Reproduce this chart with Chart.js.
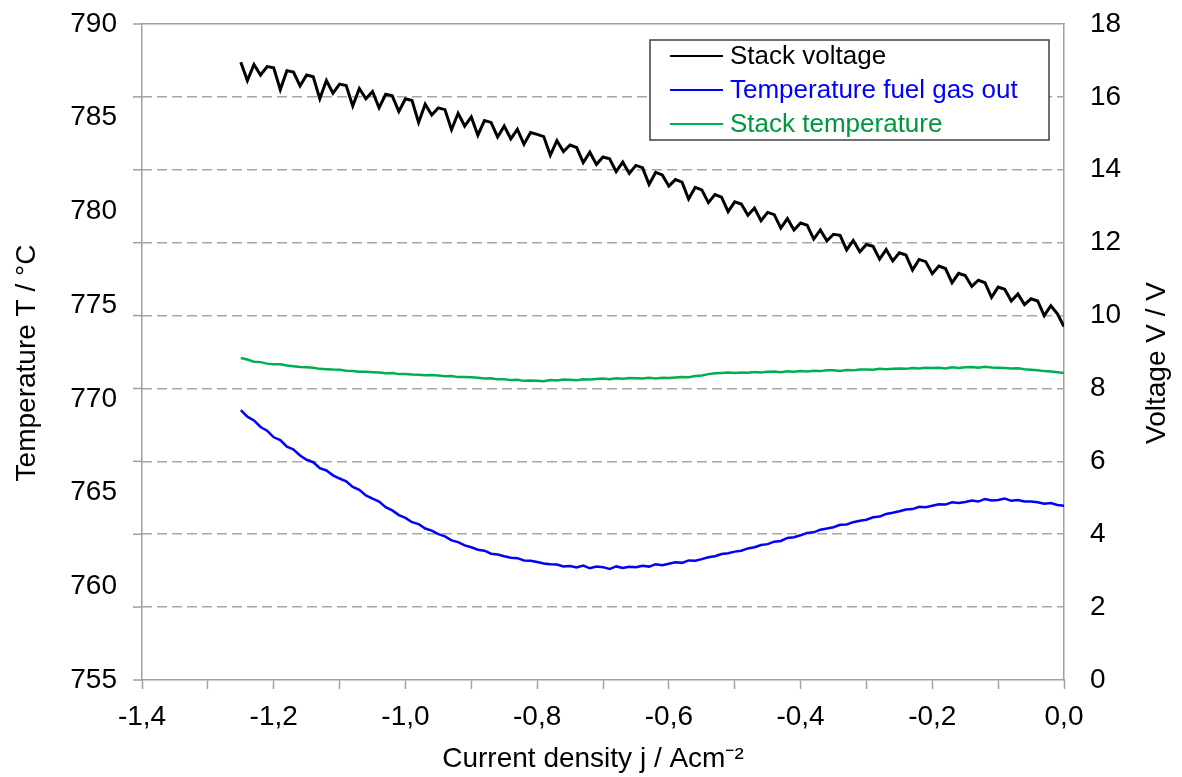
<!DOCTYPE html>
<html>
<head>
<meta charset="utf-8">
<title>Stack voltage and temperatures vs current density</title>
<script src="https://cdn.jsdelivr.net/npm/chart.js@4.4.0/dist/chart.umd.min.js"></script>
<style>
  body { margin: 0; background: #fff; }
  #wrap { width: 1182px; height: 777px; }
</style>
</head>
<body>
<div id="wrap"><canvas id="chart" width="1182" height="777"></canvas></div>
<script>
// current density j / Acm-2 (shared x values of all three series)
const currentDensity = [
  -1.25,-1.24,-1.23,-1.22,-1.21,-1.20,-1.19,-1.18,-1.17,-1.16,
  -1.15,-1.14,-1.13,-1.12,-1.11,-1.10,-1.09,-1.08,-1.07,-1.06,
  -1.05,-1.04,-1.03,-1.02,-1.01,-1.00,-0.99,-0.98,-0.97,-0.96,
  -0.95,-0.94,-0.93,-0.92,-0.91,-0.90,-0.89,-0.88,-0.87,-0.86,
  -0.85,-0.84,-0.83,-0.82,-0.81,-0.80,-0.79,-0.78,-0.77,-0.76,
  -0.75,-0.74,-0.73,-0.72,-0.71,-0.70,-0.69,-0.68,-0.67,-0.66,
  -0.65,-0.64,-0.63,-0.62,-0.61,-0.60,-0.59,-0.58,-0.57,-0.56,
  -0.55,-0.54,-0.53,-0.52,-0.51,-0.50,-0.49,-0.48,-0.47,-0.46,
  -0.45,-0.44,-0.43,-0.42,-0.41,-0.40,-0.39,-0.38,-0.37,-0.36,
  -0.35,-0.34,-0.33,-0.32,-0.31,-0.30,-0.29,-0.28,-0.27,-0.26,
  -0.25,-0.24,-0.23,-0.22,-0.21,-0.20,-0.19,-0.18,-0.17,-0.16,
  -0.15,-0.14,-0.13,-0.12,-0.11,-0.10,-0.09,-0.08,-0.07,-0.06,
  -0.05,-0.04,-0.03,-0.02,-0.01,0.00
];

// stack voltage / V (right axis) - upper envelope with the downward spikes
const stackVoltage = [
  16.95,16.45,16.89,16.60,16.83,16.80,16.20,16.72,16.68,16.30,
  16.60,16.55,15.95,16.45,16.10,16.35,16.31,15.75,16.23,15.95,
  16.15,15.70,16.07,16.03,15.60,15.95,15.90,15.30,15.80,15.50,
  15.70,15.65,15.10,15.55,15.20,15.45,14.95,15.35,15.30,14.90,
  15.20,14.85,15.11,14.70,15.02,14.97,14.91,14.40,14.80,14.50,
  14.68,14.61,14.20,14.48,14.15,14.35,14.30,13.95,14.21,13.90,
  14.12,14.06,13.60,13.93,13.86,13.55,13.73,13.66,13.20,13.52,
  13.45,13.10,13.32,13.25,12.85,13.12,13.06,12.75,12.95,12.60,
  12.83,12.77,12.40,12.66,12.35,12.54,12.48,12.10,12.35,12.05,
  12.23,12.20,11.80,12.06,11.75,11.95,11.90,11.55,11.81,11.50,
  11.72,11.66,11.25,11.54,11.48,11.15,11.36,11.29,10.90,11.16,
  11.10,10.80,10.97,10.90,10.50,10.78,10.72,10.40,10.59,10.30,
  10.46,10.40,10.00,10.27,10.05,9.70
];

// temperature fuel gas out / °C (left axis)
const fuelGasOutTemp = [
  769.40,769.05,768.85,768.50,768.30,767.95,767.80,767.45,767.30,766.98,
  766.75,766.62,766.30,766.18,765.92,765.75,765.60,765.30,765.15,764.85,
  764.68,764.52,764.22,764.05,763.80,763.65,763.42,763.32,763.08,762.97,
  762.78,762.66,762.45,762.36,762.18,762.08,761.95,761.90,761.74,761.70,
  761.60,761.52,761.50,761.38,761.36,761.30,761.22,761.18,761.16,761.06,
  761.08,761.00,761.10,760.96,761.05,761.02,760.92,761.06,760.98,761.04,
  761.02,761.10,761.05,761.18,761.12,761.20,761.28,761.25,761.38,761.36,
  761.45,761.55,761.60,761.72,761.76,761.85,761.90,762.02,762.08,762.20,
  762.25,762.38,762.42,762.58,762.62,762.72,762.85,762.88,763.02,763.08,
  763.15,763.28,763.30,763.42,763.50,763.55,763.68,763.72,763.86,763.92,
  764.00,764.10,764.12,764.24,764.22,764.30,764.38,764.36,764.48,764.44,
  764.50,764.58,764.52,764.66,764.58,764.60,764.68,764.56,764.60,764.52,
  764.52,764.48,764.40,764.44,764.34,764.30
];

// stack temperature / °C (left axis)
const stackTemp = [
  772.18,772.10,771.98,771.96,771.88,771.85,771.84,771.78,771.74,771.70,
  771.68,771.66,771.60,771.58,771.56,771.55,771.50,771.48,771.45,771.44,
  771.42,771.40,771.36,771.38,771.32,771.33,771.30,771.29,771.26,771.27,
  771.24,771.20,771.22,771.16,771.17,771.15,771.12,771.09,771.10,771.04,
  771.05,771.00,771.02,770.96,770.98,770.97,770.94,771.00,770.98,771.03,
  771.02,770.99,771.05,771.03,771.06,771.08,771.05,771.10,771.07,771.11,
  771.10,771.08,771.12,771.09,771.13,771.11,771.14,771.16,771.15,771.22,
  771.25,771.32,771.36,771.38,771.40,771.38,771.41,771.39,771.43,771.41,
  771.44,771.46,771.42,771.47,771.45,771.48,771.46,771.50,771.48,771.52,
  771.52,771.49,771.54,771.52,771.56,771.57,771.55,771.60,771.58,771.61,
  771.62,771.60,771.65,771.62,771.66,771.64,771.66,771.62,771.68,771.65,
  771.68,771.70,771.66,771.71,771.67,771.66,771.64,771.62,771.63,771.58,
  771.55,771.52,771.48,771.46,771.42,771.38
];

const seriesNames = ["Stack voltage", "Temperature fuel gas out", "Stack temperature"];
const lineColors = ["#000000", "#0000ff", "#00b050"];
const textColors = ["#000000", "#0000ff", "#00963c"];

const xTitle = "Current density j / Acm⁻²";
const yTitle = "Temperature T / °C";
const y1Title = "Voltage V / V";

const FONT = "'Liberation Sans', Arial, sans-serif";
const AXIS_GRAY = "#a0a0a0";

function toPoints(values) {
  return currentDensity.map((j, i) => ({ x: j, y: values[i] }));
}

// axes sizes are fixed so the plot area sits where it does in the picture
function fixWidth(w) {
  return (s) => { s.width = w; s.paddingTop = 0; s.paddingBottom = 0; };
}
function fixHeight(h) {
  return (s) => { s.height = h; s.paddingLeft = 0; s.paddingRight = 0; };
}

// axis titles (both vertical ones read bottom to top) and short stubs
// of the dashed grid lines left of the plot area
const axisTitles = {
  id: "axisTitles",
  afterDraw(chart) {
    const { ctx, chartArea } = chart;
    const yc = (chartArea.top + chartArea.bottom) / 2 + 11;
    ctx.save();
    ctx.strokeStyle = AXIS_GRAY;
    ctx.lineWidth = 1.5;
    chart.scales.y1.ticks.forEach((t) => {
      const y = chart.scales.y1.getPixelForValue(t.value);
      ctx.beginPath();
      ctx.moveTo(chartArea.left - 9, y);
      ctx.lineTo(chartArea.left, y);
      ctx.stroke();
    });
    ctx.fillStyle = "#000";
    ctx.font = "28px " + FONT;
    ctx.textAlign = "center";
    ctx.textBaseline = "middle";
    ctx.fillText(xTitle, chartArea.left + 451, chart.height - 18);
    [[27, yTitle], [chart.width - 25, y1Title]].forEach(([x, text]) => {
      ctx.save();
      ctx.translate(x, yc);
      ctx.rotate(-Math.PI / 2);
      ctx.fillText(text, 0, 0);
      ctx.restore();
    });
    ctx.restore();
  }
};

// legend box drawn inside the plot area, top right
const boxLegend = {
  id: "boxLegend",
  afterDraw(chart) {
    const { ctx, chartArea } = chart;
    const w = 399, h = 100;
    const x0 = chartArea.right - 15 - w;
    const y0 = chartArea.top + 16;
    ctx.save();
    ctx.fillStyle = "#fff";
    ctx.fillRect(x0, y0, w, h);
    ctx.strokeStyle = "#404040";
    ctx.lineWidth = 1.5;
    ctx.strokeRect(x0, y0, w, h);
    ctx.font = "26px " + FONT;
    ctx.textBaseline = "middle";
    chart.data.datasets.forEach((ds, i) => {
      const y = y0 + 16 + i * 34;
      ctx.strokeStyle = ds.borderColor;
      ctx.lineWidth = 2;
      ctx.beginPath();
      ctx.moveTo(x0 + 20, y);
      ctx.lineTo(x0 + 73, y);
      ctx.stroke();
      ctx.fillStyle = textColors[i];
      ctx.fillText(ds.label, x0 + 80, y + 1);
    });
    ctx.restore();
  }
};

new Chart(document.getElementById("chart"), {
  type: "line",
  data: {
    datasets: [
      {
        label: seriesNames[0],
        data: toPoints(stackVoltage),
        yAxisID: "y1",
        borderColor: lineColors[0],
        borderWidth: 3,
        pointRadius: 0,
      },
      {
        label: seriesNames[1],
        data: toPoints(fuelGasOutTemp),
        yAxisID: "y",
        borderColor: lineColors[1],
        borderWidth: 2.5,
        pointRadius: 0,
      },
      {
        label: seriesNames[2],
        data: toPoints(stackTemp),
        yAxisID: "y",
        borderColor: lineColors[2],
        borderWidth: 2.5,
        pointRadius: 0,
      },
    ],
  },
  options: {
    responsive: false,
    animation: false,
    devicePixelRatio: 1,
    layout: { padding: 0 },
    plugins: {
      legend: { display: false },
      tooltip: { enabled: false },
    },
    scales: {
      x: {
        type: "linear",
        position: "bottom",
        min: -1.4,
        max: 0,
        afterFit: fixHeight(97),
        ticks: {
          stepSize: 0.1,
          autoSkip: false,
          maxRotation: 0,
          padding: 11,
          color: "#000",
          font: { family: FONT, size: 28 },
          callback: (v) => {
            const k = Math.round(v * 10);
            return k % 2 === 0 ? (k / 10).toFixed(1).replace(".", ",") : "";
          },
        },
        grid: {
          drawOnChartArea: false,
          drawTicks: true,
          tickLength: 9,
          tickColor: AXIS_GRAY,
          tickWidth: 1.5,
        },
        border: { color: AXIS_GRAY, width: 1.5 },
      },
      xTop: {
        type: "linear",
        position: "top",
        min: -1.4,
        max: 0,
        afterFit: fixHeight(24),
        ticks: { display: false },
        grid: { display: false, drawTicks: false },
        border: { color: AXIS_GRAY, width: 1.5 },
      },
      y: {
        type: "linear",
        position: "left",
        min: 755,
        max: 790,
        afterFit: fixWidth(142),
        ticks: {
          stepSize: 5,
          padding: 25,
          color: "#000",
          font: { family: FONT, size: 28 },
        },
        grid: { drawOnChartArea: false, drawTicks: false },
        border: { color: AXIS_GRAY, width: 1.5 },
      },
      y1: {
        type: "linear",
        position: "right",
        min: 0,
        max: 18,
        afterFit: fixWidth(118),
        ticks: {
          stepSize: 2,
          padding: 26,
          color: "#000",
          font: { family: FONT, size: 28 },
        },
        grid: {
          drawOnChartArea: true,
          drawTicks: false,
          lineWidth: 1.5,
          color: (c) => (c.tick && (c.tick.value === 0 || c.tick.value === 18)) ? "rgba(0,0,0,0)" : "#a6a6a6",
        },
        border: { color: AXIS_GRAY, width: 1.5, dash: [10, 5] },
      },
    },
  },
  plugins: [axisTitles, boxLegend],
});
</script>
</body>
</html>
